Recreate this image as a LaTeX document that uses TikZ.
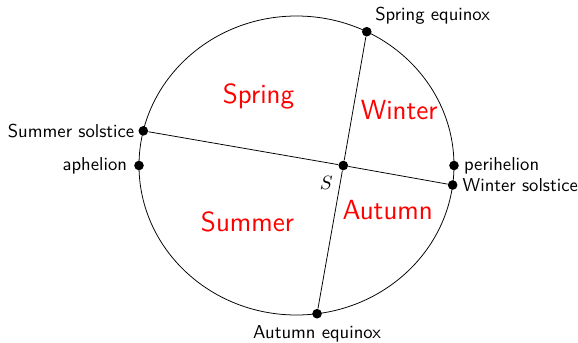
\documentclass[tikz,border=0pt]{standalone}
\usepackage{tikz}
\usetikzlibrary{positioning}

\begin{document}
\begin{tikzpicture}[x=0.52pt, y=0.52pt, every node/.style={font=\sffamily\fontsize{9.7}{11.6}\selectfont},
		dot/.style={circle, fill=black, inner sep=0pt, minimum size=5pt},
		season/.style={text=red, font=\sffamily\Large}]
	\useasboundingbox (-296.5,-176.5) rectangle (281.5,165.5);
	% the orbit, centred at the origin; the sun sits near the right focus
	\draw (0,0) ellipse [x radius=157.5, y radius=149.5];
	\foreach \n/\t in {spreq/63.5, aueq/-82.5, sumsol/166.6, winsol/-7.5, aph/180, peri/0}{
		\node[dot] (\n) at ({157.5*cos(\t)},{149.5*sin(\t)}) {};
	}
	\node[dot] (sun) at (46.8,0) {};
	\draw (spreq) -- (sun) -- (aueq);
	\draw (sumsol) -- (sun) -- (winsol);
	\node[below left=0pt of sun] (slab) {$S$};
	\node[above right=-1.5pt and -1pt of spreq] (spreqlab) {Spring equinox};
	\node[below=0pt of aueq] (aueqlab) {Autumn equinox};
	\node[left=-1.5pt of sumsol] (sumsollab) {Summer solstice};
	\node[right=-1pt of winsol] (winsollab) {Winter solstice};
	\node[left=0pt of aph] (aphlab) {aphelion};
	\node[right=-1pt of peri] (perilab) {perihelion};
	% the four seasons between the lines
	\node[season] (spring) at (-38,69.1) {Spring};
	\node[season] (winter) at (102.7,55.8) {Winter};
	\node[season] (summer) at (-49,-55.9) {Summer};
	\node[season] (autumn) at (91.2,-44.9) {Autumn};
\end{tikzpicture}
\end{document}
